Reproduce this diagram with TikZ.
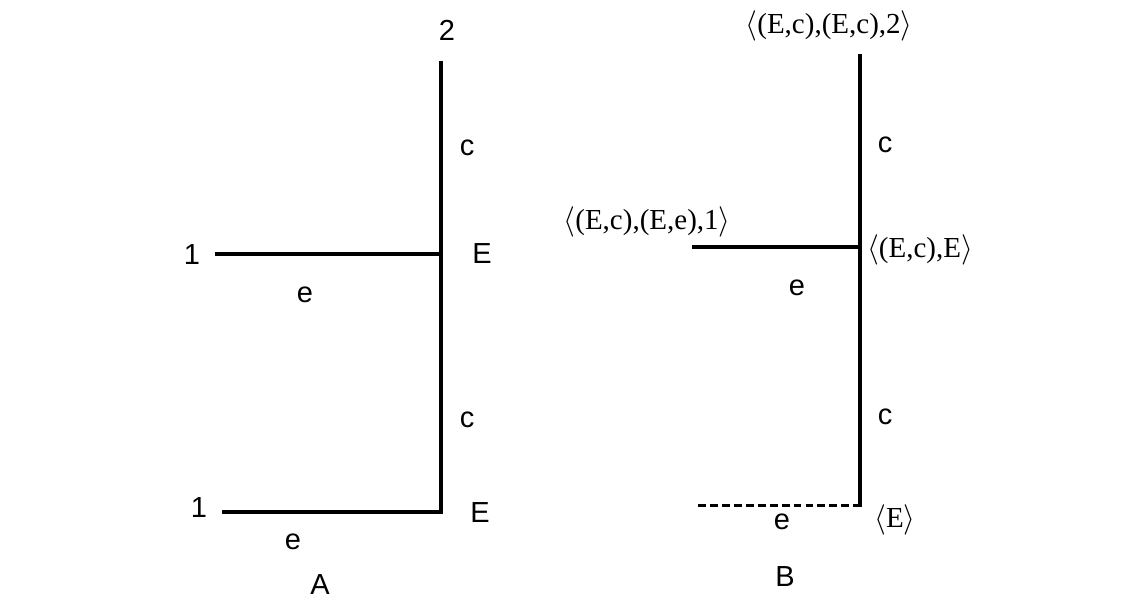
\documentclass[tikz,border=0pt]{standalone}
\usepackage{fontspec}
\setmainfont{Liberation Serif}
\setsansfont{Liberation Sans}
\usetikzlibrary{positioning}
\newcommand{\tup}[1]{$\Bigl\langle$#1$\Bigr\rangle$}
\begin{document}
\begin{tikzpicture}[x=0.02cm, y=-0.02cm,
      edge/.style={line width=1.9pt},
      weak/.style={line width=1.7pt, dash pattern=on 4.5pt off 2.3pt},
      lbl/.style={font=\sffamily\fontsize{16.5}{20}\selectfont, inner sep=0pt},
      tpl/.style={font=\fontsize{16.5}{19}\selectfont, inner sep=0pt}]
    \useasboundingbox (0,0) rectangle (1143,599);
    % tree A
    \coordinate (aTop) at (441,61);
    \coordinate (aMid) at (441,254);
    \coordinate (aBot) at (441,512);
    \coordinate (aLeafU) at (215,254);
    \coordinate (aLeafL) at (222,512);
    \node[lbl] (a2) at (447,30) {2};
    \node[lbl] (ac1) at (467,148) {c};
    \node[lbl] (a1u) at (192,255) {1};
    \node[lbl] (aEu) at (482,254) {E};
    \node[lbl] (aeu) at (305,295) {e};
    \node[lbl] (ac2) at (467,420) {c};
    \node[lbl] (a1l) at (199,508) {1};
    \node[lbl] (aEl) at (480,513) {E};
    \node[lbl] (ael) at (293,542) {e};
    \node[lbl] (aname) at (320,585) {A};
    \draw[edge] (aLeafU) -- (aMid);
    \draw[edge] (aTop) -- (aBot) -- (aLeafL);
    % tree B
    \coordinate (bTop) at (860,54);
    \coordinate (bMid) at (860,247);
    \coordinate (bBot) at (860,507);
    \coordinate (bLeafU) at (692,247);
    \coordinate (bDash) at (698,505);
    \coordinate (bDashEnd) at (860,505);
    \node[tpl] (broot) at (829,26) {\tup{(E,c),(E,c),2}};
    \node[lbl] (bc1) at (885,145) {c};
    \node[tpl] (bleaf) at (647,222) {\tup{(E,c),(E,e),1}};
    \node[tpl] (bmidl) at (920,250) {\tup{(E,c),E}};
    \node[lbl] (beu) at (797,288) {e};
    \node[lbl] (bc2) at (885,417) {c};
    \node[tpl] (bbotl) at (895,520) {\tup{E}};
    \node[lbl] (bel) at (782,522) {e};
    \node[lbl] (bname) at (785,577) {B};
    \draw[edge] (bLeafU) -- (bMid);
    \draw[edge] (bTop) -- (bBot);
    \draw[weak] (bDash) -- (bDashEnd);
  \end{tikzpicture}
\end{document}
